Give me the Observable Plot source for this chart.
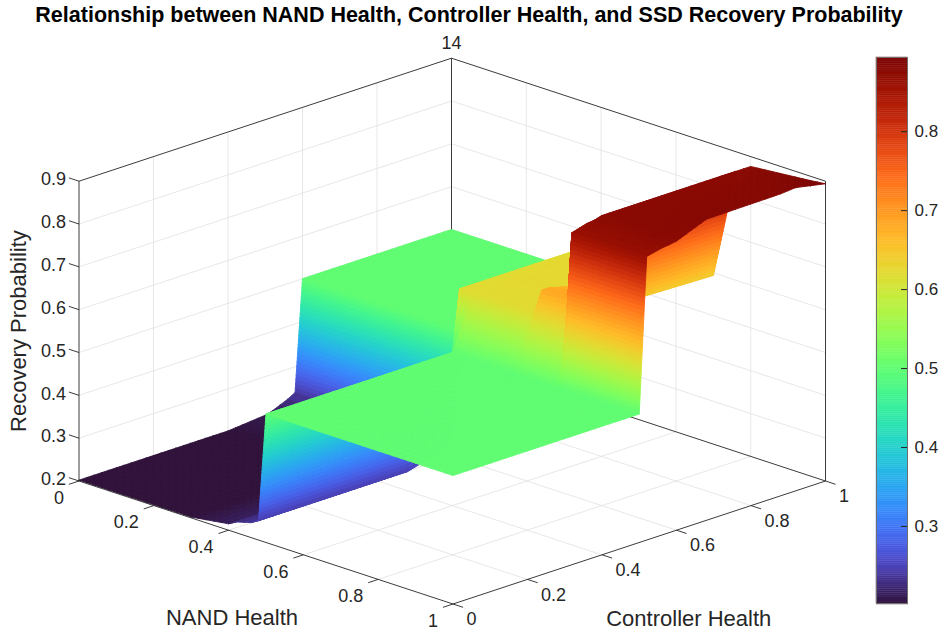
<!DOCTYPE html>
<html>
<head>
<meta charset="utf-8">
<script src="https://cdn.jsdelivr.net/npm/d3@7"></script>
<script src="https://cdn.jsdelivr.net/npm/@observablehq/plot@0.6"></script>
<style>
  body { margin: 0; background: #fff; }
  #wrap { position: relative; width: 943px; height: 632px; overflow: hidden;
          font-family: "Liberation Sans", Arial, Helvetica, sans-serif; }
  #title { position: absolute; left: 0; top: 0; width: 938px; height: 30px; text-align: center;
           font-weight: bold; font-size: 21.5px; line-height: 30px; color: #000; white-space: nowrap; }
  #main { position: absolute; left: 0; top: 30px; width: 870px; height: 602px; }
  #cbar { position: absolute; left: 876px; top: 47px; width: 76px; height: 567px; }
  #main svg, #cbar svg { max-width: none !important; }
</style>
</head>
<body>
<div id="wrap">
  <div id="title">Relationship between NAND Health, Controller Health, and SSD Recovery Probability</div>
  <div id="main"></div>
  <div id="cbar"></div>
</div>
<script>
// ---------------- data ----------------
const nandNodes = [0, 0.3, 0.4, 0.42, 0.46, 0.48, 0.5, 0.66, 0.68, 0.78, 0.8, 0.96, 1];
const ctrlNodes = [0, 0.4, 0.5, 0.52, 0.56, 0.58, 0.6, 0.72, 0.92, 0.96, 1];
// rows follow nandNodes, columns follow ctrlNodes (NaN = no surface)
const recoveryZ = [
  [0.202, 0.202, 0.21,  0.215, 0.23,  0.24,  0.5,   0.5,   0.5,   0.5,   0.5],
  [0.202, 0.202, 0.21,  0.215, 0.23,  0.24,  0.5,   0.5,   0.5,   0.5,   0.5],
  [0.215, 0.215, 0.22,  0.222, 0.232, 0.242, 0.5,   0.5,   0.5,   0.5,   0.5],
  [0.225, 0.225, 0.228, 0.23,  0.24,  0.25,  0.5,   0.5,   0.5,   0.5,   0.5],
  [0.235, 0.235, 0.26,  0.3,   0.62,  0.62,  0.62,  0.62,  0.62,  0.62,  0.62],
  [0.245, 0.245, 0.27,  0.35,  0.62,  0.62,  0.62,  0.622, 0.625, 0.625, 0.625],
  [0.5,   0.5,   0.5,   0.54,  0.62,  0.62,  0.622, 0.625, 0.625, 0.625, 0.625],
  [0.5,   0.5,   0.5,   0.54,  0.622, 0.622, 0.622, 0.625, 0.625, 0.625, 0.625],
  [0.5,   0.5,   0.5,   0.56,  0.68,  0.68,  0.675, 0.65,  0.64,  NaN,   NaN],
  [0.5,   0.5,   0.5,   0.56,  0.69,  0.69,  0.68,  0.645, 0.64,  NaN,   NaN],
  [0.5,   0.5,   0.5,   0.86,  0.87,  0.872, 0.877, 0.877, 0.877, 0.877, 0.877],
  [0.5,   0.5,   0.5,   0.862, 0.872, 0.875, 0.878, 0.88,  0.882, 0.885, 0.89],
  [0.5,   0.5,   0.5,   0.862, 0.87,  0.872, 0.875, NaN,   NaN,   NaN,   0.894]
];
const nandTicks = [0, 0.2, 0.4, 0.6, 0.8, 1];
const ctrlTicks = [0, 0.2, 0.4, 0.6, 0.8, 1];
const zTicks = [0.2, 0.3, 0.4, 0.5, 0.6, 0.7, 0.8, 0.9];
const colorTicks = [0.3, 0.4, 0.5, 0.6, 0.7, 0.8];
const nandLim = [0, 1], ctrlLim = [0, 1], zLim = [0.2, 0.9];
const labels = {nand: "NAND Health", ctrl: "Controller Health", z: "Recovery Probability", top: "14"};

// ---------------- view (orthographic 3-D projection) ----------------
const TOP = 30;
const box = {x0: 78.5, y0: 480.5 - TOP, n: [374, 123], c: [372.5, -123], z: [0, -299.8]};
function project(n, c, z) {
  const u = (n - nandLim[0]) / (nandLim[1] - nandLim[0]);
  const v = (c - ctrlLim[0]) / (ctrlLim[1] - ctrlLim[0]);
  const w = (z - zLim[0]) / (zLim[1] - zLim[0]);
  return [box.x0 + box.n[0] * u + box.c[0] * v + box.z[0] * w,
          box.y0 + box.n[1] * u + box.c[1] * v + box.z[1] * w];
}
const seg = (a, b) => { const p = project(...a), q = project(...b); return {x1: p[0], y1: p[1], x2: q[0], y2: q[1]}; };
const pt = (n, c, z, text) => { const p = project(n, c, z); return {x: p[0], y: p[1], text}; };
const zmin = d3.min(recoveryZ.flat().filter(Number.isFinite));
const zmax = d3.max(recoveryZ.flat().filter(Number.isFinite));

// turbo colormap with MATLAB-like end colours
const lo = d3.interpolateRgb("#30123b", d3.interpolateTurbo(0.06));
const hi = d3.interpolateRgb(d3.interpolateTurbo(0.93), "#7a0403");
const turbo = t => t < 0.06 ? lo(Math.max(0, t) / 0.06) : t > 0.93 ? hi(Math.min(1, (t - 0.93) / 0.07)) : d3.interpolateTurbo(t);
const colorScale = {type: "linear", domain: [zmin, zmax], interpolate: () => turbo};

// ---------------- surface polygons (interp-like shading) ----------------
const polys = [];
function pushPoly(pts) {
  polys.push({pts, v: d3.mean(pts, p => p[2]), depth: d3.mean(pts, p => -p[0] + p[1])});
}
for (let i = 0; i < nandNodes.length - 1; i++) {
  for (let j = 0; j < ctrlNodes.length - 1; j++) {
    const n0 = nandNodes[i], n1 = nandNodes[i + 1], c0 = ctrlNodes[j], c1 = ctrlNodes[j + 1];
    const z00 = recoveryZ[i][j], z10 = recoveryZ[i + 1][j], z01 = recoveryZ[i][j + 1], z11 = recoveryZ[i + 1][j + 1];
    const corners = [[n0, c0, z00], [n1, c0, z10], [n1, c1, z11], [n0, c1, z01]];
    const valid = corners.filter(p => Number.isFinite(p[2]));
    if (valid.length === 4) {
      const kn = Math.max(1, Math.ceil((n1 - n0) / 0.02 - 1e-9), Math.ceil(Math.max(Math.abs(z10 - z00), Math.abs(z11 - z01)) / 0.01));
      const kc = Math.max(1, Math.ceil((c1 - c0) / 0.02 - 1e-9), Math.ceil(Math.max(Math.abs(z01 - z00), Math.abs(z11 - z10)) / 0.01));
      const at = (u, w) => [n0 + (n1 - n0) * u, c0 + (c1 - c0) * w,
        z00 * (1 - u) * (1 - w) + z10 * u * (1 - w) + z01 * (1 - u) * w + z11 * u * w];
      for (let a = 0; a < kn; a++) for (let b = 0; b < kc; b++) {
        pushPoly([at(a / kn, b / kc), at((a + 1) / kn, b / kc), at((a + 1) / kn, (b + 1) / kc), at(a / kn, (b + 1) / kc)]);
      }
    } else if (valid.length === 3) {
      const [A, B, C] = valid;
      const dz = d3.max(valid, p => p[2]) - d3.min(valid, p => p[2]);
      const k = Math.max(1, Math.ceil(Math.max(n1 - n0, c1 - c0) / 0.02 - 1e-9), Math.ceil(dz / 0.01));
      const q = (a, b) => [0, 1, 2].map(d => A[d] + (B[d] - A[d]) * a / k + (C[d] - A[d]) * b / k);
      for (let a = 0; a < k; a++) for (let b = 0; b < k - a; b++) {
        pushPoly([q(a, b), q(a + 1, b), q(a, b + 1)]);
        if (a + b < k - 1) pushPoly([q(a + 1, b), q(a + 1, b + 1), q(a, b + 1)]);
      }
    }
  }
}
polys.sort((a, b) => b.depth - a.depth); // far to near (painter's order)
const surface = [];
polys.forEach((p, id) => {
  const ring = p.pts.concat([p.pts[0]]);
  for (const [n, c, z] of ring) { const s = project(n, c, z); surface.push({id, x: s[0], y: s[1], v: p.v}); }
});

// ---------------- axes geometry ----------------
const inner = arr => arr.slice(1, -1);
const gridSegs = [];
for (const n of inner(nandTicks)) { gridSegs.push(seg([n, 0, zLim[0]], [n, 1, zLim[0]])); gridSegs.push(seg([n, 1, zLim[0]], [n, 1, zLim[1]])); }
for (const c of inner(ctrlTicks)) { gridSegs.push(seg([0, c, zLim[0]], [1, c, zLim[0]])); gridSegs.push(seg([0, c, zLim[0]], [0, c, zLim[1]])); }
for (const z of inner(zTicks)) { gridSegs.push(seg([0, 0, z], [0, 1, z])); gridSegs.push(seg([0, 1, z], [1, 1, z])); }
const [N0, N1] = nandLim, [C0, C1] = ctrlLim, [Z0, Z1] = zLim;
const backEdges = [
  seg([N0, C1, Z0], [N0, C1, Z1]), seg([N1, C1, Z0], [N1, C1, Z1]),
  seg([N0, C0, Z1], [N0, C1, Z1]), seg([N0, C1, Z1], [N1, C1, Z1]),
  seg([N0, C0, Z0], [N0, C1, Z0]), seg([N0, C1, Z0], [N1, C1, Z0])
];
const tl = 0.027;
const frontEdges = [
  seg([N0, C0, Z0], [N1, C0, Z0]), seg([N1, C0, Z0], [N1, C1, Z0]), seg([N0, C0, Z0], [N0, C0, Z1]),
  ...zTicks.map(z => seg([N0, C0, z], [N0 - tl, C0, z])),
  ...nandTicks.map(n => seg([n, C0, Z0], [n, C0 - tl, Z0])),
  ...ctrlTicks.map(c => seg([N1, c, Z0], [N1 + tl, c, Z0]))
];
const fmt = d => (d === 0 || d === 1) ? String(d) : d3.format(".1f")(d);
const zLabels = zTicks.map(z => pt(N0, C0, z, fmt(z)));
const nLabels = nandTicks.map(n => pt(n, C0, Z0, fmt(n)));
const cLabels = ctrlTicks.map(c => pt(N1, c, Z0, fmt(c)));
const ink = "#262626";
const font = "'Liberation Sans', Arial, Helvetica, sans-serif";

const main = Plot.plot({
  width: 870, height: 602, margin: 0,
  x: {type: "identity", axis: null}, y: {type: "identity", axis: null},
  color: colorScale,
  style: {fontFamily: font, fontSize: "18px", color: ink, background: "transparent", overflow: "visible", maxWidth: "none"},
  marks: [
    Plot.link(gridSegs, {x1: "x1", y1: "y1", x2: "x2", y2: "y2", stroke: "#e1e1e1", strokeWidth: 0.8}),
    Plot.link(backEdges, {x1: "x1", y1: "y1", x2: "x2", y2: "y2", stroke: ink, strokeWidth: 0.9}),
    Plot.line(surface, {x: "x", y: "y", z: "id", fill: "v", stroke: "v", strokeWidth: 0.9, curve: "linear"}),
    Plot.link(frontEdges, {x1: "x1", y1: "y1", x2: "x2", y2: "y2", stroke: ink, strokeWidth: 0.9}),
    Plot.text(zLabels, {x: "x", y: "y", text: "text", textAnchor: "end", dx: -13, dy: -1.5, fill: ink, fontSize: 18}),
    Plot.text(nLabels, {x: "x", y: "y", text: "text", textAnchor: "end", dx: -15, dy: 17, fill: ink, fontSize: 18}),
    Plot.text(cLabels, {x: "x", y: "y", text: "text", textAnchor: "start", dx: 13.5, dy: 15.5, fill: ink, fontSize: 18}),
    Plot.text([pt((N0 + N1) / 2, C0, Z0, labels.nand)], {x: "x", y: "y", text: "text", dx: -34, dy: 75, fill: ink, fontSize: 22}),
    Plot.text([pt(N1, (C0 + C1) / 2, Z0, labels.ctrl)], {x: "x", y: "y", text: "text", dx: 49.5, dy: 76, fill: ink, fontSize: 22}),
    Plot.text([pt(N0, C0, (Z0 + Z1) / 2, labels.z)], {x: "x", y: "y", text: "text", rotate: -90, dx: -60.5, fill: ink, fontSize: 22}),
    Plot.text([pt(N0, C1, Z1, labels.top)], {x: "x", y: "y", text: "text", dy: -14.5, fill: ink, fontSize: 18})
  ]
});
document.getElementById("main").appendChild(main);

// ---------------- colorbar ----------------
const steps = 256;
const bands = d3.range(steps).map(i => {
  const a = zmin + (zmax - zmin) * i / steps, b = zmin + (zmax - zmin) * (i + 1) / steps;
  return {a, b, m: (a + b) / 2};
});
const cbar = Plot.plot({
  width: 76, height: 566.3, marginTop: 10, marginBottom: 10, marginLeft: 0, marginRight: 45,
  x: {domain: [0, 1], axis: null},
  y: {domain: [zmin, zmax], axis: "right", ticks: colorTicks, tickSize: 0, tickPadding: 7,
      tickFormat: d3.format(".1f"), label: null},
  color: colorScale,
  style: {fontFamily: font, fontSize: "17px", color: ink, background: "transparent", overflow: "visible", maxWidth: "none"},
  marks: [
    Plot.rect(bands, {x1: 0, x2: 1, y1: "a", y2: "b", fill: "m", stroke: "m", strokeWidth: 0.4}),
    Plot.tickY(colorTicks, {y: d => d, insetLeft: 25, stroke: ink, strokeWidth: 1}),
    Plot.frame({stroke: "#6f6f6f", strokeWidth: 1})
  ]
});
document.getElementById("cbar").appendChild(cbar);
</script>
</body>
</html>
